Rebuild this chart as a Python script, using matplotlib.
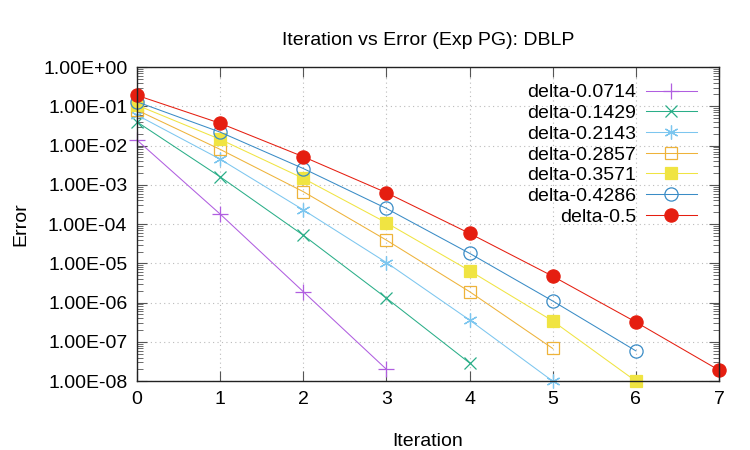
import matplotlib
matplotlib.use('Agg')
import matplotlib.pyplot as plt
from matplotlib.ticker import LogLocator, FuncFormatter, NullFormatter

plt.rcParams['font.family'] = ['Liberation Sans', 'DejaVu Sans']

# values
labels = ['delta-0.0714', 'delta-0.1429', 'delta-0.2143', 'delta-0.2857',
          'delta-0.3571', 'delta-0.4286', 'delta-0.5']
err_0714 = [1.38e-2, 1.8e-4, 1.9e-6, 2.0e-8]
err_1429 = [4.0e-2, 1.6e-3, 5.2e-5, 1.3e-6, 2.9e-8]
err_2143 = [6.0e-2, 4.5e-3, 2.3e-4, 1.05e-5, 3.6e-7, 1.0e-8]
err_2857 = [8.0e-2, 8.0e-3, 6.7e-4, 3.9e-5, 1.9e-6, 6.8e-8]
err_3571 = [1.07e-1, 1.44e-2, 1.46e-3, 1.08e-4, 6.5e-6, 3.4e-7, 1.0e-8]
err_4286 = [1.3e-1, 2.2e-2, 2.6e-3, 2.5e-4, 1.8e-5, 1.1e-6, 5.9e-8]
err_5000 = [1.9e-1, 3.7e-2, 5.2e-3, 6.3e-4, 5.8e-5, 4.7e-6, 3.2e-7, 1.9e-8]
series = [err_0714, err_1429, err_2143, err_2857, err_3571, err_4286, err_5000]

colors = ['#b05ee0', '#2aae88', '#7cc6ef', '#eeb33a', '#f0e442', '#3a8cc6', '#e51e10']
markers = ['+', 'x', (6, 2, 0), 's', 's', 'o', 'o']
filled = [True, True, True, False, True, False, True]
sizes = [11, 9, 10, 9, 9, 9.5, 9.5]

fig = plt.figure(figsize=(7.5, 4.5), dpi=100)
ax = fig.add_axes([0.1827, 0.153, 0.776, 0.698])

for vals, lab, c, m, f, s in zip(series, labels, colors, markers, filled, sizes):
    xs = list(range(len(vals)))
    ax.plot(xs, vals, color=c, lw=0.75, marker=m, ms=s, mew=0.9,
            mfc=c if f else 'none', mec=c, label=lab, clip_on=False)

ax.set_yscale('log')
ax.set_xlim(0, 7)
ax.set_ylim(1e-8, 1)
ax.set_xticks(range(8))
ax.yaxis.set_major_locator(LogLocator(base=10, numticks=20))
ax.yaxis.set_minor_locator(LogLocator(base=10, subs=range(2, 10), numticks=20))
ax.yaxis.set_minor_formatter(NullFormatter())
ax.yaxis.set_major_formatter(FuncFormatter(lambda v, p: f'{v:.2E}'))

ax.tick_params(which='both', direction='in', top=True, right=True, labelsize=14,
               color='#555555')
ax.tick_params(which='major', length=7, width=0.8, pad=7)
ax.tick_params(which='minor', length=4, width=0.6)
for sp in ax.spines.values():
    sp.set_linewidth(1.0)
    sp.set_color('#222222')

ax.grid(True, which='major', color='#bbbbbb', ls=(0, (1, 3)), lw=0.8)

ax.set_xlabel('Iteration', fontsize=14, labelpad=18)
ax.set_ylabel('Error', fontsize=14, labelpad=10)
ax.set_title('Iteration vs Error (Exp PG): DBLP', fontsize=14, pad=16)

ax.legend(loc='upper right', frameon=False, markerfirst=False, fontsize=14,
          handlelength=2.6, labelspacing=0.16, borderaxespad=0.3,
          handletextpad=0.5, bbox_to_anchor=(0.985, 0.99))

fig.savefig('out.png', dpi=100)
